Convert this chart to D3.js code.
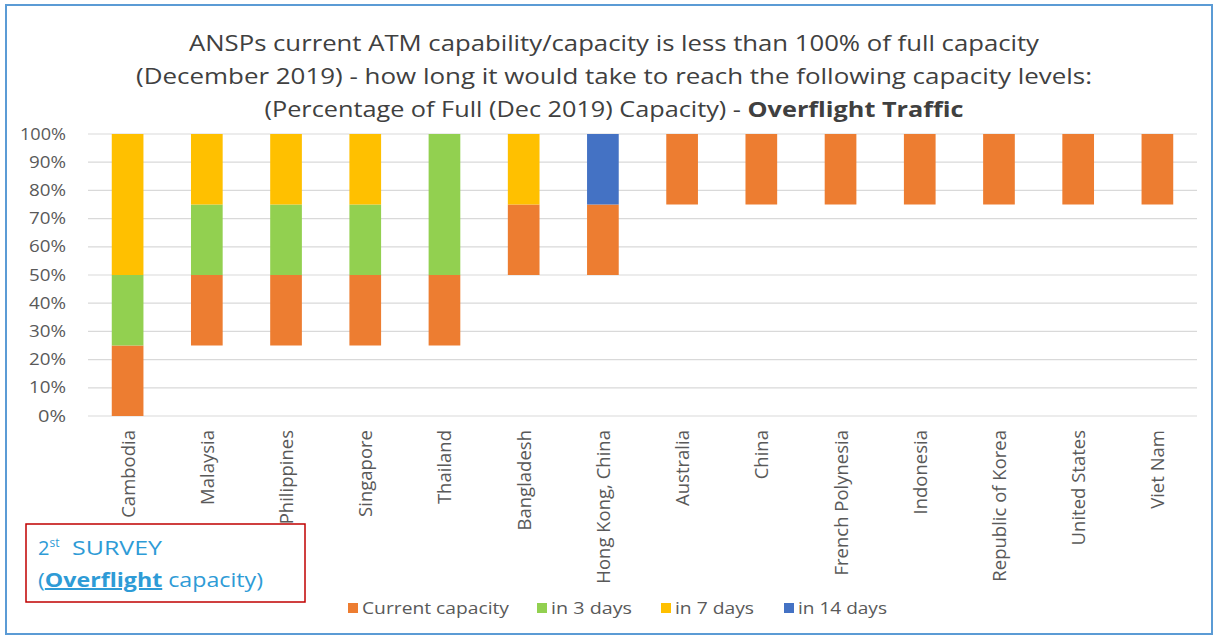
<!DOCTYPE html>
<html lang="en">

<head>
    <meta charset="utf-8">
    <title>Overflight capacity</title>
    <script type="text/javascript" src="https://d3js.org/d3.v7.min.js"></script>
    <style>
        body { margin: 0; background: #fff; }
        svg text { font-family: "Open Sans", sans-serif; white-space: pre; }
    </style>
</head>

<body>
    <div id="container"></div>
    <script type="text/javascript">
        var w = 1218;
        var h = 639;

        // data (values in %)
        var countries = ["Cambodia", "Malaysia", "Philippines", "Singapore", "Thailand", "Bangladesh",
            "Hong Kong, China", "Australia", "China", "French Polynesia", "Indonesia",
            "Republic of Korea", "United States", "Viet Nam"];
        var base = [0, 25, 25, 25, 25, 50, 50, 75, 75, 75, 75, 75, 75, 75];     // invisible offset
        var current = [25, 25, 25, 25, 25, 25, 25, 25, 25, 25, 25, 25, 25, 25];
        var in3days = [25, 25, 25, 25, 50, 0, 0, 0, 0, 0, 0, 0, 0, 0];
        var in7days = [50, 25, 25, 25, 0, 25, 0, 0, 0, 0, 0, 0, 0, 0];
        var in14days = [0, 0, 0, 0, 0, 0, 25, 0, 0, 0, 0, 0, 0, 0];
        var yTicks = [0, 10, 20, 30, 40, 50, 60, 70, 80, 90, 100];

        var seriesNames = ["Current capacity", "in 3 days", "in 7 days", "in 14 days"];
        var seriesColors = ["#ED7D31", "#92D050", "#FFC000", "#4472C4"];

        var rows = countries.map((c, i) => ({
            country: c, base: base[i], "Current capacity": current[i],
            "in 3 days": in3days[i], "in 7 days": in7days[i], "in 14 days": in14days[i]
        }));

        const svg = d3.select("div#container")
            .append("svg")
            .attr("width", w)
            .attr("height", h);

        // outer frame
        svg.append("rect")
            .attr("x", 6).attr("y", 5)
            .attr("width", 1206).attr("height", 629)
            .attr("fill", "none")
            .attr("stroke", "#5B9BD5")
            .attr("stroke-width", 2);

        var x = d3.scaleBand().domain(countries).range([88, 1197]).paddingInner(0.6).paddingOuter(0.3);
        var y = d3.scaleLinear().domain([0, 100]).range([416, 134]);

        // gridlines
        svg.append("g")
            .selectAll("line")
            .data(yTicks)
            .enter()
            .append("line")
            .attr("x1", 88).attr("x2", 1197)
            .attr("y1", d => y(d)).attr("y2", d => y(d))
            .attr("stroke", "#D9D9D9")
            .attr("stroke-width", 1.2);

        // y axis
        var yAxis = svg.append("g")
            .attr("transform", "translate(72,0)")
            .call(d3.axisLeft(y).tickValues(yTicks).tickFormat(d => d + "%").tickSize(0).tickPadding(6));
        yAxis.select(".domain").remove();
        yAxis.selectAll("text")
            .attr("font-family", "Open Sans, sans-serif")
            .attr("font-size", 16)
            .attr("fill", "#595959")
            .attr("textLength", d => d == 100 ? 46 : d == 0 ? 28 : 37)
            .attr("lengthAdjust", "spacingAndGlyphs");

        // stacked bars
        var stack = d3.stack().keys(["base"].concat(seriesNames));
        var layers = stack(rows);

        svg.append("g")
            .selectAll("g")
            .data(layers.slice(1))
            .enter()
            .append("g")
            .attr("fill", (d, i) => seriesColors[i])
            .selectAll("rect")
            .data(d => d.filter(s => s[1] > s[0]))
            .enter()
            .append("rect")
            .attr("x", d => x(d.data.country))
            .attr("width", x.bandwidth())
            .attr("y", d => y(d[1]))
            .attr("height", d => y(d[0]) - y(d[1]));

        // survey note box (drawn under the axis labels)
        svg.append("rect")
            .attr("x", 26).attr("y", 524)
            .attr("width", 279).attr("height", 78)
            .attr("fill", "#fff")
            .attr("stroke", "#C00000")
            .attr("stroke-width", 1.5);

        // x axis labels
        svg.append("g")
            .selectAll("text")
            .data(countries)
            .enter()
            .append("text")
            .attr("transform", d => "translate(" + (x(d) + x.bandwidth() / 2 + 7) + ",430) rotate(-90)")
            .attr("text-anchor", "end")
            .attr("font-size", 18.5)
            .attr("fill", "#595959")
            .text(d => d);

        // title
        var titleLines = [
            "ANSPs current ATM capability/capacity is less than 100% of full capacity",
            "(December 2019) - how long it would take to reach the following capacity levels:"
        ];
        var titleWidths = [850, 956];
        svg.selectAll("text.title")
            .data(titleLines)
            .enter()
            .append("text")
            .attr("class", "title")
            .attr("x", 614)
            .attr("y", (d, i) => 51 + i * 33)
            .attr("text-anchor", "middle")
            .attr("font-size", 22)
            .attr("fill", "#404040")
            .attr("textLength", (d, i) => titleWidths[i])
            .attr("lengthAdjust", "spacingAndGlyphs")
            .text(d => d);
        var t3 = svg.append("text")
            .attr("x", 614).attr("y", 117)
            .attr("text-anchor", "middle")
            .attr("font-size", 22)
            .attr("fill", "#404040")
            .attr("textLength", 699)
            .attr("lengthAdjust", "spacingAndGlyphs");
        t3.append("tspan").text("(Percentage of Full (Dec 2019) Capacity) - ");
        t3.append("tspan").attr("font-weight", "bold").text("Overflight Traffic");

        // legend
        var legendX = [348, 537, 661, 784];
        var legendW = [147, 81, 79, 89];
        var legend = svg.append("g")
            .selectAll("g")
            .data(seriesNames)
            .enter()
            .append("g")
            .attr("transform", (d, i) => "translate(" + legendX[i] + ",614)");
        legend.append("rect")
            .attr("x", 0).attr("y", -11)
            .attr("width", 10).attr("height", 10)
            .attr("fill", (d, i) => seriesColors[i]);
        legend.append("text")
            .attr("x", 14).attr("y", 0)
            .attr("font-size", 17)
            .attr("fill", "#595959")
            .attr("textLength", (d, i) => legendW[i])
            .attr("lengthAdjust", "spacingAndGlyphs")
            .text(d => d);

        // survey note text
        var n1 = svg.append("text")
            .attr("x", 38).attr("y", 555)
            .attr("font-size", 20)
            .attr("fill", "#2E9BD6");
        n1.append("tspan").text("2");
        n1.append("tspan").attr("font-size", 12).attr("dy", -8).text("st");
        n1.append("tspan").attr("x", 72).attr("dy", 8)
            .attr("textLength", 90).attr("lengthAdjust", "spacingAndGlyphs").text("SURVEY");
        var n2 = svg.append("text")
            .attr("x", 38).attr("y", 587)
            .attr("font-size", 20)
            .attr("fill", "#2E9BD6")
            .attr("textLength", 225)
            .attr("lengthAdjust", "spacingAndGlyphs");
        n2.append("tspan").text("(");
        n2.append("tspan").attr("font-weight", "bold").attr("text-decoration", "underline").text("Overflight");
        n2.append("tspan").text(" capacity)");
    </script>
</body>

</html>
